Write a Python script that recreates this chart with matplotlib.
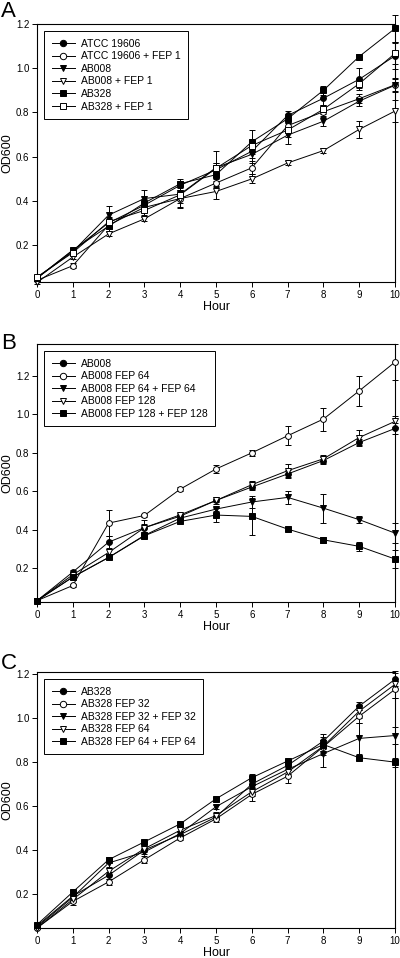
import numpy as np
import matplotlib
matplotlib.use("Agg")
import matplotlib.pyplot as plt
from matplotlib.lines import Line2D

plt.rcParams['font.family'] = ['Liberation Sans', 'DejaVu Sans']

hours = [0, 1, 2, 3, 4, 5, 6, 7, 8, 9, 10]

## panel A
labels_a = ['ATCC 19606', 'ATCC 19606 + FEP 1', 'AB008', 'AB008 + FEP 1', 'AB328', 'AB328 + FEP 1']
vals_a = [
    [0.05, 0.175, 0.30, 0.38, 0.47, 0.54, 0.624, 0.786, 0.864, 0.95, 1.056],
    [0.04, 0.106, 0.29, 0.37, 0.41, 0.48, 0.549, 0.74, 0.803, 0.862, 0.925],
    [0.05, 0.17, 0.335, 0.41, 0.43, 0.55, 0.61, 0.697, 0.76, 0.851, 0.923],
    [0.03, 0.145, 0.25, 0.318, 0.41, 0.442, 0.499, 0.571, 0.627, 0.723, 0.806],
    [0.05, 0.177, 0.285, 0.39, 0.477, 0.518, 0.667, 0.771, 0.90, 1.053, 1.18],
    [0.055, 0.165, 0.305, 0.356, 0.427, 0.547, 0.65, 0.72, 0.814, 0.93, 1.067],
]
errs_a = [
    [0.005, 0.01, 0.02, 0.02, 0.02, 0.03, 0.03, 0.02, 0.03, 0.05, 0.06],
    [0.005, 0.01, 0.02, 0.02, 0.02, 0.02, 0.03, 0.03, 0.02, 0.02, 0.03],
    [0.005, 0.01, 0.04, 0.04, 0.02, 0.02, 0.04, 0.04, 0.02, 0.02, 0.03],
    [0.005, 0.01, 0.01, 0.01, 0.04, 0.035, 0.02, 0.01, 0.01, 0.04, 0.05],
    [0.005, 0.01, 0.02, 0.02, 0.02, 0.03, 0.055, 0.02, 0.02, 0.01, 0.06],
    [0.005, 0.01, 0.02, 0.02, 0.06, 0.08, 0.03, 0.03, 0.02, 0.02, 0.05],
]

## panel B
labels_b = ['AB008', 'AB008 FEP 64', 'AB008 FEP 64 + FEP 64', 'AB008 FEP 128', 'AB008 FEP 128 + FEP 128']
vals_b = [
    [0.03, 0.179, 0.335, 0.41, 0.47, 0.552, 0.622, 0.69, 0.76, 0.854, 0.927],
    [0.03, 0.109, 0.434, 0.474, 0.611, 0.716, 0.80, 0.889, 0.976, 1.123, 1.273],
    [0.03, 0.153, 0.255, 0.37, 0.46, 0.507, 0.544, 0.568, 0.512, 0.452, 0.382],
    [0.03, 0.165, 0.281, 0.41, 0.477, 0.552, 0.634, 0.707, 0.769, 0.88, 0.964],
    [0.03, 0.153, 0.255, 0.368, 0.443, 0.476, 0.469, 0.403, 0.347, 0.313, 0.247],
]
errs_b = [
    [0.005, 0.01, 0.03, 0.02, 0.01, 0.01, 0.015, 0.02, 0.02, 0.02, 0.03],
    [0.005, 0.01, 0.068, 0.01, 0.01, 0.02, 0.015, 0.05, 0.06, 0.077, 0.096],
    [0.005, 0.01, 0.01, 0.01, 0.01, 0.01, 0.03, 0.035, 0.075, 0.02, 0.05],
    [0.005, 0.01, 0.02, 0.04, 0.01, 0.02, 0.02, 0.035, 0.02, 0.04, 0.03],
    [0.005, 0.01, 0.01, 0.01, 0.01, 0.035, 0.095, 0.01, 0.015, 0.025, 0.045],
]

## panel C
labels_c = ['AB328', 'AB328 FEP 32', 'AB328 FEP 32 + FEP 32', 'AB328 FEP 64', 'AB328 FEP 64 + FEP 64']
vals_c = [
    [0.055, 0.19, 0.285, 0.40, 0.47, 0.55, 0.70, 0.785, 0.896, 1.055, 1.177],
    [0.045, 0.166, 0.255, 0.356, 0.455, 0.542, 0.653, 0.736, 0.87, 1.009, 1.131],
    [0.05, 0.185, 0.341, 0.391, 0.475, 0.597, 0.688, 0.767, 0.839, 0.908, 0.921],
    [0.045, 0.175, 0.303, 0.406, 0.49, 0.557, 0.665, 0.755, 0.873, 1.032, 1.154],
    [0.06, 0.209, 0.356, 0.437, 0.519, 0.633, 0.729, 0.805, 0.88, 0.82, 0.80],
]
errs_c = [
    [0.005, 0.01, 0.015, 0.01, 0.01, 0.01, 0.02, 0.02, 0.03, 0.02, 0.03],
    [0.005, 0.015, 0.015, 0.015, 0.01, 0.015, 0.03, 0.03, 0.03, 0.03, 0.04],
    [0.005, 0.01, 0.02, 0.01, 0.01, 0.01, 0.02, 0.02, 0.06, 0.07, 0.04],
    [0.005, 0.01, 0.015, 0.01, 0.015, 0.015, 0.02, 0.02, 0.04, 0.03, 0.06],
    [0.005, 0.01, 0.01, 0.01, 0.01, 0.01, 0.015, 0.01, 0.02, 0.01, 0.02],
]

styles_a = [('o', 'black'), ('o', 'white'), ('v', 'black'), ('v', 'white'), ('s', 'black'), ('s', 'white')]
styles_bc = [('o', 'black'), ('o', 'white'), ('v', 'black'), ('v', 'white'), ('s', 'black')]

fig = plt.figure(figsize=(4.0, 9.58), dpi=100)

# letter, labels, values, errors, marker styles, axes rect, ylim, letter baseline (fig y)
panels = [
    ('A', labels_a, vals_a, errs_a, styles_a, [0.0925, 0.7056, 0.895, 0.2693], (0.032, 1.2), 0.9823),
    ('B', labels_b, vals_b, errs_b, styles_bc, [0.0925, 0.3716, 0.895, 0.2693], (0.023, 1.367), 0.6357),
    ('C', labels_c, vals_c, errs_c, styles_bc, [0.0925, 0.0313, 0.895, 0.2672], (0.045, 1.21), 0.3017),
]

for letter, labels, vals, errs, styles, rect, ylim, ly in panels:
    ax = fig.add_axes(rect)
    handles = []
    for lab, v, e, (mk, fc) in zip(labels, vals, errs, styles):
        ax.errorbar(hours, v, yerr=e, color='black', lw=0.7, elinewidth=0.7,
                    capsize=2.5, capthick=0.7, marker=mk, markersize=4.2,
                    markerfacecolor=fc, markeredgecolor='black', markeredgewidth=0.7,
                    clip_on=False, zorder=3)
        handles.append(Line2D([], [], color='black', lw=0.7, marker=mk, markersize=4.6,
                              markerfacecolor=fc, markeredgecolor='black',
                              markeredgewidth=0.7, label=lab))
    ax.set_xlim(0, 10)
    ax.set_ylim(*ylim)
    ax.set_xticks(range(0, 11))
    ax.set_yticks([0.2, 0.4, 0.6, 0.8, 1.0, 1.2])
    ax.set_yticklabels(['0.2', '0.4', '0.6', '0.8', '1.0', '1.2'])
    ax.tick_params(direction='out', length=3.5, width=0.7, labelsize=7, pad=2)
    for s in ax.spines.values():
        s.set_linewidth(0.8)
    ax.set_xlabel('Hour', fontsize=9, labelpad=1)
    ax.set_ylabel('OD600', fontsize=9, labelpad=2)
    leg = ax.legend(handles=handles, loc='upper left', fontsize=7.5, frameon=True,
                    fancybox=False, edgecolor='black', framealpha=1, handlelength=2.2,
                    labelspacing=0.25, borderpad=0.7, handletextpad=0.6,
                    borderaxespad=0.7, numpoints=1)
    leg.get_frame().set_linewidth(0.7)
    fig.text(0.003, ly, letter, fontsize=16, ha='left', va='baseline')

fig.savefig('out.png', dpi=100)
